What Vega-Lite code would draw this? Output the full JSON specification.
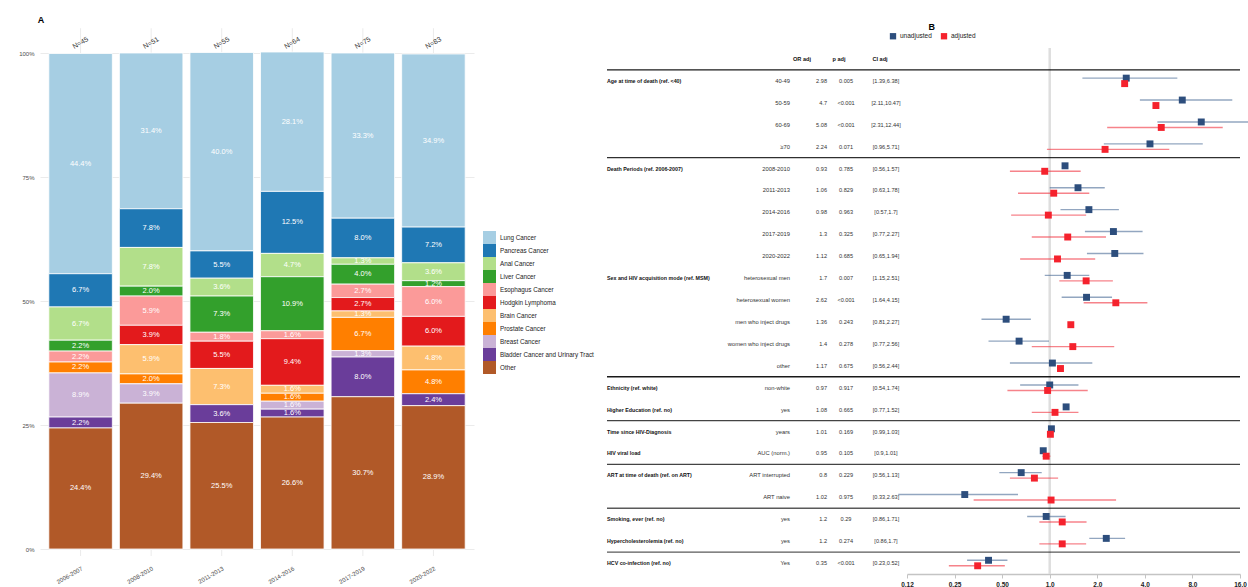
{
  "$schema": "https://vega.github.io/schema/vega-lite/v6.json",
  "background": "white",
  "padding": {"left": 18, "top": 15, "right": 0, "bottom": 0},
  "config": {"font": "Liberation Sans", "view": {"stroke": null}},
  "resolve": {"scale": {"color": "independent"}, "legend": {"color": "independent"}},
  "datasets": {
    "periods": [
      {"period": "2006-2007", "N": "N=45"},
      {"period": "2008-2010", "N": "N=51"},
      {"period": "2011-2013", "N": "N=55"},
      {"period": "2014-2016", "N": "N=64"},
      {"period": "2017-2019", "N": "N=75"},
      {"period": "2020-2022", "N": "N=83"}
    ],
    "cats": [
      {"cat": "Other", "k": 0},
      {"cat": "Bladder Cancer and Urinary Tract", "k": 1},
      {"cat": "Breast Cancer", "k": 2},
      {"cat": "Prostate Cancer", "k": 3},
      {"cat": "Brain Cancer", "k": 4},
      {"cat": "Hodgkin Lymphoma", "k": 5},
      {"cat": "Esophagus Cancer", "k": 6},
      {"cat": "Liver Cancer", "k": 7},
      {"cat": "Anal Cancer", "k": 8},
      {"cat": "Pancreas Cancer", "k": 9},
      {"cat": "Lung Cancer", "k": 10}
    ],
    "cancer": [
      {"period": "2006-2007", "cat": "Lung Cancer", "s": 0.444},
      {"period": "2006-2007", "cat": "Pancreas Cancer", "s": 0.067},
      {"period": "2006-2007", "cat": "Anal Cancer", "s": 0.067},
      {"period": "2006-2007", "cat": "Liver Cancer", "s": 0.022},
      {"period": "2006-2007", "cat": "Esophagus Cancer", "s": 0.022},
      {"period": "2006-2007", "cat": "Prostate Cancer", "s": 0.022},
      {"period": "2006-2007", "cat": "Breast Cancer", "s": 0.089},
      {"period": "2006-2007", "cat": "Bladder Cancer and Urinary Tract", "s": 0.022},
      {"period": "2006-2007", "cat": "Other", "s": 0.244},
      {"period": "2008-2010", "cat": "Lung Cancer", "s": 0.314},
      {"period": "2008-2010", "cat": "Pancreas Cancer", "s": 0.078},
      {"period": "2008-2010", "cat": "Anal Cancer", "s": 0.078},
      {"period": "2008-2010", "cat": "Liver Cancer", "s": 0.020},
      {"period": "2008-2010", "cat": "Esophagus Cancer", "s": 0.059},
      {"period": "2008-2010", "cat": "Hodgkin Lymphoma", "s": 0.039},
      {"period": "2008-2010", "cat": "Brain Cancer", "s": 0.059},
      {"period": "2008-2010", "cat": "Prostate Cancer", "s": 0.020},
      {"period": "2008-2010", "cat": "Breast Cancer", "s": 0.039},
      {"period": "2008-2010", "cat": "Other", "s": 0.294},
      {"period": "2011-2013", "cat": "Lung Cancer", "s": 0.400},
      {"period": "2011-2013", "cat": "Pancreas Cancer", "s": 0.055},
      {"period": "2011-2013", "cat": "Anal Cancer", "s": 0.036},
      {"period": "2011-2013", "cat": "Liver Cancer", "s": 0.073},
      {"period": "2011-2013", "cat": "Esophagus Cancer", "s": 0.018},
      {"period": "2011-2013", "cat": "Hodgkin Lymphoma", "s": 0.055},
      {"period": "2011-2013", "cat": "Brain Cancer", "s": 0.073},
      {"period": "2011-2013", "cat": "Bladder Cancer and Urinary Tract", "s": 0.036},
      {"period": "2011-2013", "cat": "Other", "s": 0.255},
      {"period": "2014-2016", "cat": "Lung Cancer", "s": 0.281},
      {"period": "2014-2016", "cat": "Pancreas Cancer", "s": 0.125},
      {"period": "2014-2016", "cat": "Anal Cancer", "s": 0.047},
      {"period": "2014-2016", "cat": "Liver Cancer", "s": 0.109},
      {"period": "2014-2016", "cat": "Esophagus Cancer", "s": 0.016},
      {"period": "2014-2016", "cat": "Hodgkin Lymphoma", "s": 0.094},
      {"period": "2014-2016", "cat": "Brain Cancer", "s": 0.016},
      {"period": "2014-2016", "cat": "Prostate Cancer", "s": 0.016},
      {"period": "2014-2016", "cat": "Breast Cancer", "s": 0.016},
      {"period": "2014-2016", "cat": "Bladder Cancer and Urinary Tract", "s": 0.016},
      {"period": "2014-2016", "cat": "Other", "s": 0.266},
      {"period": "2017-2019", "cat": "Lung Cancer", "s": 0.333},
      {"period": "2017-2019", "cat": "Pancreas Cancer", "s": 0.080},
      {"period": "2017-2019", "cat": "Anal Cancer", "s": 0.013},
      {"period": "2017-2019", "cat": "Liver Cancer", "s": 0.040},
      {"period": "2017-2019", "cat": "Esophagus Cancer", "s": 0.027},
      {"period": "2017-2019", "cat": "Hodgkin Lymphoma", "s": 0.027},
      {"period": "2017-2019", "cat": "Brain Cancer", "s": 0.013},
      {"period": "2017-2019", "cat": "Prostate Cancer", "s": 0.067},
      {"period": "2017-2019", "cat": "Breast Cancer", "s": 0.013},
      {"period": "2017-2019", "cat": "Bladder Cancer and Urinary Tract", "s": 0.080},
      {"period": "2017-2019", "cat": "Other", "s": 0.307},
      {"period": "2020-2022", "cat": "Lung Cancer", "s": 0.349},
      {"period": "2020-2022", "cat": "Pancreas Cancer", "s": 0.072},
      {"period": "2020-2022", "cat": "Anal Cancer", "s": 0.036},
      {"period": "2020-2022", "cat": "Liver Cancer", "s": 0.012},
      {"period": "2020-2022", "cat": "Esophagus Cancer", "s": 0.060},
      {"period": "2020-2022", "cat": "Hodgkin Lymphoma", "s": 0.060},
      {"period": "2020-2022", "cat": "Brain Cancer", "s": 0.048},
      {"period": "2020-2022", "cat": "Prostate Cancer", "s": 0.048},
      {"period": "2020-2022", "cat": "Bladder Cancer and Urinary Tract", "s": 0.024},
      {"period": "2020-2022", "cat": "Other", "s": 0.289}
    ],
    "seps": [
      {"i": 1, "kind": "a"},
      {"i": 5, "kind": "b"},
      {"i": 15, "kind": "a"},
      {"i": 17, "kind": "c"},
      {"i": 19, "kind": "c"},
      {"i": 21, "kind": "d"},
      {"i": 23, "kind": "d"}
    ],
    "hdr": [{"i": 0, "or": "OR adj", "p": "p adj", "ci": "CI adj"}],
    "tbl": [
      {"i": 1, "grp": "Age at time of death (ref. <40)", "lvl": "40-49", "or": "2.98", "p": "0.005", "ci": "[1.39,6.38]"},
      {"i": 2, "grp": "", "lvl": "50-59", "or": "4.7", "p": "<0.001", "ci": "[2.11,10.47]"},
      {"i": 3, "grp": "", "lvl": "60-69", "or": "5.08", "p": "<0.001", "ci": "[2.31,12.44]"},
      {"i": 4, "grp": "", "lvl": "≥70", "or": "2.24", "p": "0.071", "ci": "[0.96,5.71]"},
      {"i": 5, "grp": "Death Periods (ref. 2006-2007)", "lvl": "2008-2010", "or": "0.93", "p": "0.785", "ci": "[0.56,1.57]"},
      {"i": 6, "grp": "", "lvl": "2011-2013", "or": "1.06", "p": "0.829", "ci": "[0.63,1.78]"},
      {"i": 7, "grp": "", "lvl": "2014-2016", "or": "0.98", "p": "0.963", "ci": "[0.57,1.7]"},
      {"i": 8, "grp": "", "lvl": "2017-2019", "or": "1.3", "p": "0.325", "ci": "[0.77,2.27]"},
      {"i": 9, "grp": "", "lvl": "2020-2022", "or": "1.12", "p": "0.685", "ci": "[0.65,1.94]"},
      {"i": 10, "grp": "Sex and HIV acquisition mode (ref. MSM)", "lvl": "heterosexual men", "or": "1.7", "p": "0.007", "ci": "[1.15,2.51]"},
      {"i": 11, "grp": "", "lvl": "heterosexual women", "or": "2.62", "p": "<0.001", "ci": "[1.64,4.15]"},
      {"i": 12, "grp": "", "lvl": "men who inject drugs", "or": "1.36", "p": "0.243", "ci": "[0.81,2.27]"},
      {"i": 13, "grp": "", "lvl": "women who inject drugs", "or": "1.4", "p": "0.278", "ci": "[0.77,2.56]"},
      {"i": 14, "grp": "", "lvl": "other", "or": "1.17", "p": "0.675", "ci": "[0.56,2.44]"},
      {"i": 15, "grp": "Ethnicity (ref. white)", "lvl": "non-white", "or": "0.97", "p": "0.917", "ci": "[0.54,1.74]"},
      {"i": 16, "grp": "Higher Education (ref. no)", "lvl": "yes", "or": "1.08", "p": "0.665", "ci": "[0.77,1.52]"},
      {"i": 17, "grp": "Time since HIV-Diagnosis", "lvl": "years", "or": "1.01", "p": "0.169", "ci": "[0.99,1.03]"},
      {"i": 18, "grp": "HIV viral load", "lvl": "AUC (norm.)", "or": "0.95", "p": "0.105", "ci": "[0.9,1.01]"},
      {"i": 19, "grp": "ART at time of death (ref. on ART)", "lvl": "ART interrupted", "or": "0.8", "p": "0.229", "ci": "[0.56,1.13]"},
      {"i": 20, "grp": "", "lvl": "ART naive", "or": "1.02", "p": "0.975", "ci": "[0.33,2.63]"},
      {"i": 21, "grp": "Smoking, ever (ref. no)", "lvl": "yes", "or": "1.2", "p": "0.29", "ci": "[0.86,1.71]"},
      {"i": 22, "grp": "Hypercholesterolemia (ref. no)", "lvl": "yes", "or": "1.2", "p": "0.274", "ci": "[0.86,1.7]"},
      {"i": 23, "grp": "HCV co-infection (ref. no)", "lvl": "Yes", "or": "0.35", "p": "<0.001", "ci": "[0.23,0.52]"}
    ],
    "forest": [
      {"i": 1, "model": "unadjusted", "or": 3.05, "lo": 1.61, "hi": 6.42},
      {"i": 1, "model": "adjusted", "or": 2.98},
      {"i": 2, "model": "unadjusted", "or": 6.9, "lo": 3.72, "hi": 14.3},
      {"i": 2, "model": "adjusted", "or": 4.7},
      {"i": 3, "model": "unadjusted", "or": 9.1, "lo": 4.8, "hi": 18},
      {"i": 3, "model": "adjusted", "or": 5.08, "lo": 2.31, "hi": 12.44},
      {"i": 4, "model": "unadjusted", "or": 4.31, "lo": 2.2, "hi": 9.3},
      {"i": 4, "model": "adjusted", "or": 2.24, "lo": 0.96, "hi": 5.71},
      {"i": 5, "model": "unadjusted", "or": 1.25},
      {"i": 5, "model": "adjusted", "or": 0.93, "lo": 0.56, "hi": 1.57},
      {"i": 6, "model": "unadjusted", "or": 1.51, "lo": 1.0, "hi": 2.23},
      {"i": 6, "model": "adjusted", "or": 1.06, "lo": 0.63, "hi": 1.78},
      {"i": 7, "model": "unadjusted", "or": 1.77, "lo": 1.17, "hi": 2.74},
      {"i": 7, "model": "adjusted", "or": 0.98, "lo": 0.57, "hi": 1.7},
      {"i": 8, "model": "unadjusted", "or": 2.53, "lo": 1.67, "hi": 3.87},
      {"i": 8, "model": "adjusted", "or": 1.3, "lo": 0.77, "hi": 2.27},
      {"i": 9, "model": "unadjusted", "or": 2.58, "lo": 1.72, "hi": 3.92},
      {"i": 9, "model": "adjusted", "or": 1.12, "lo": 0.65, "hi": 1.94},
      {"i": 10, "model": "unadjusted", "or": 1.29, "lo": 0.93, "hi": 1.78},
      {"i": 10, "model": "adjusted", "or": 1.7, "lo": 1.15, "hi": 2.51},
      {"i": 11, "model": "unadjusted", "or": 1.71, "lo": 1.19, "hi": 2.48},
      {"i": 11, "model": "adjusted", "or": 2.62, "lo": 1.64, "hi": 4.15},
      {"i": 12, "model": "unadjusted", "or": 0.53, "lo": 0.37, "hi": 0.76},
      {"i": 12, "model": "adjusted", "or": 1.36},
      {"i": 13, "model": "unadjusted", "or": 0.64, "lo": 0.41, "hi": 0.99},
      {"i": 13, "model": "adjusted", "or": 1.4, "lo": 0.77, "hi": 2.56},
      {"i": 14, "model": "unadjusted", "or": 1.04, "lo": 0.56, "hi": 1.86},
      {"i": 14, "model": "adjusted", "or": 1.17},
      {"i": 15, "model": "unadjusted", "or": 1.0, "lo": 0.65, "hi": 1.52},
      {"i": 15, "model": "adjusted", "or": 0.97, "lo": 0.54, "hi": 1.74},
      {"i": 16, "model": "unadjusted", "or": 1.27},
      {"i": 16, "model": "adjusted", "or": 1.08, "lo": 0.77, "hi": 1.52},
      {"i": 17, "model": "unadjusted", "or": 1.025},
      {"i": 17, "model": "adjusted", "or": 1.01, "lo": 0.99, "hi": 1.03},
      {"i": 18, "model": "unadjusted", "or": 0.91},
      {"i": 18, "model": "adjusted", "or": 0.95, "lo": 0.9, "hi": 1.01},
      {"i": 19, "model": "unadjusted", "or": 0.66, "lo": 0.48, "hi": 0.89},
      {"i": 19, "model": "adjusted", "or": 0.8, "lo": 0.56, "hi": 1.13},
      {"i": 20, "model": "unadjusted", "or": 0.29, "lo": 0.11, "hi": 0.63},
      {"i": 20, "model": "adjusted", "or": 1.02, "lo": 0.33, "hi": 2.63},
      {"i": 21, "model": "unadjusted", "or": 0.95, "lo": 0.72, "hi": 1.26},
      {"i": 21, "model": "adjusted", "or": 1.2, "lo": 0.86, "hi": 1.71},
      {"i": 22, "model": "unadjusted", "or": 2.28, "lo": 1.78, "hi": 3.0},
      {"i": 22, "model": "adjusted", "or": 1.2, "lo": 0.86, "hi": 1.7},
      {"i": 23, "model": "unadjusted", "or": 0.41, "lo": 0.3, "hi": 0.54},
      {"i": 23, "model": "adjusted", "or": 0.35, "lo": 0.23, "hi": 0.52}
    ]
  },
  "spacing": 133,
  "bounds": "flush",
  "hconcat": [
    {
      "width": 434,
      "height": 508,
      "title": {"text": "A", "anchor": "start", "fontSize": 9, "fontWeight": "bold", "offset": 3, "dx": 19},
      "layer": [
        {
          "data": {"name": "periods"},
          "mark": {"type": "rule", "color": "#ebebeb", "strokeWidth": 1},
          "encoding": {
            "x": {"field": "period", "type": "nominal", "sort": null,
              "scale": {"paddingInner": 0.1, "paddingOuter": 0.125},
              "axis": {"title": null, "labelAngle": -30, "labelAlign": "right", "labelBaseline": "top", "labelFontSize": 6, "labelColor": "#4d4d4d", "ticks": false, "domain": false, "grid": false, "labelPadding": 9}},
            "y": {"datum": -0.0141, "type": "quantitative",
              "scale": {"domain": [-0.0141, 1.0101], "nice": false, "zero": false},
              "axis": {"title": null, "values": [0, 0.25, 0.5, 0.75, 1], "format": ".0%", "labelFontSize": 6, "labelColor": "#4d4d4d", "ticks": false, "domain": false, "grid": true, "gridColor": "#ebebeb", "labelPadding": 6}},
            "y2": {"datum": 1.05}
          }
        },
        {
          "data": {"name": "cancer"},
          "transform": [{"lookup": "cat", "from": {"data": {"name": "cats"}, "key": "cat", "fields": ["k"]}}],
          "mark": {"type": "bar", "stroke": "white", "strokeWidth": 0.8},
          "encoding": {
            "x": {"field": "period", "type": "nominal", "sort": null},
            "y": {"field": "s", "type": "quantitative", "stack": "zero"},
            "order": {"field": "k", "type": "quantitative"},
            "color": {"field": "cat", "type": "nominal",
              "scale": {"domain": ["Lung Cancer", "Pancreas Cancer", "Anal Cancer", "Liver Cancer", "Esophagus Cancer", "Hodgkin Lymphoma", "Brain Cancer", "Prostate Cancer", "Breast Cancer", "Bladder Cancer and Urinary Tract", "Other"],
                "range": ["#a6cee3", "#1f78b4", "#b2df8a", "#33a02c", "#fb9a99", "#e31a1c", "#fdbf6f", "#ff7f00", "#cab2d6", "#6a3d9a", "#b15928"]},
              "legend": {"title": null, "orient": "none", "direction": "vertical", "legendX": 443, "legendY": 183, "symbolType": "square", "symbolSize": 169, "symbolStrokeWidth": 0, "rowPadding": 0, "labelFontSize": 6.3, "labelColor": "#222", "labelOffset": 4, "labelLimit": 200}}
          }
        },
        {
          "data": {"name": "cancer"},
          "transform": [{"lookup": "cat", "from": {"data": {"name": "cats"}, "key": "cat", "fields": ["k"]}}],
          "mark": {"type": "text", "color": "white", "fontSize": 7.5, "baseline": "middle"},
          "encoding": {
            "x": {"field": "period", "type": "nominal", "sort": null},
            "y": {"field": "s", "type": "quantitative", "stack": "zero", "bandPosition": 0.5},
            "order": {"field": "k", "type": "quantitative"},
            "detail": {"field": "cat", "type": "nominal"},
            "text": {"field": "s", "type": "quantitative", "format": ".1%"}
          }
        },
        {
          "data": {"name": "periods"},
          "mark": {"type": "text", "angle": 330, "fontSize": 7, "color": "#333", "baseline": "middle"},
          "encoding": {
            "x": {"field": "period", "type": "nominal", "sort": null},
            "y": {"datum": 1.02, "type": "quantitative"},
            "text": {"field": "N"}
          }
        }
      ]
    },
    {
      "spacing": 0,
      "bounds": "flush",
      "hconcat": [
        {
          "width": 100, "height": 526,
          "layer": [
            {
              "data": {"name": "seps"},
              "mark": {"type": "rule", "strokeWidth": 1.4, "color": "black"},
              "encoding": {
                "y": {"field": "i", "type": "ordinal", "bandPosition": 0, "scale": {"type": "band", "domain": [0,1,2,3,4,5,6,7,8,9,10,11,12,13,14,15,16,17,18,19,20,21,22,23], "paddingInner": 0, "paddingOuter": 0}, "axis": null},
                "opacity": {"field": "kind", "type": "nominal", "scale": {"domain": ["a", "b", "c", "d"], "range": [0.9, 0.65, 0.42, 0.13]}, "legend": null}
              }
            },
            {
              "data": {"name": "tbl"},
              "mark": {"type": "text", "align": "left", "baseline": "middle", "fontWeight": "bold", "fontSize": 5.3, "color": "#111"},
              "encoding": {
                "x": {"datum": "c", "type": "nominal", "scale": {"type": "point", "paddingOuter": 0, "align": 0}, "axis": null},
                "y": {"field": "i", "type": "ordinal", "axis": null},
                "text": {"field": "grp"}
              }
            }
          ]
        },
        {
          "width": 83, "height": 526,
          "layer": [
            {
              "data": {"name": "seps"},
              "mark": {"type": "rule", "strokeWidth": 1.4, "color": "black"},
              "encoding": {
                "y": {"field": "i", "type": "ordinal", "bandPosition": 0, "scale": {"type": "band", "domain": [0,1,2,3,4,5,6,7,8,9,10,11,12,13,14,15,16,17,18,19,20,21,22,23], "paddingInner": 0, "paddingOuter": 0}, "axis": null},
                "opacity": {"field": "kind", "type": "nominal", "scale": {"domain": ["a", "b", "c", "d"], "range": [0.9, 0.65, 0.42, 0.13]}, "legend": null}
              }
            },
            {
              "data": {"name": "tbl"},
              "mark": {"type": "text", "align": "right", "baseline": "middle", "fontSize": 5.8, "color": "#333"},
              "encoding": {
                "x": {"datum": "c", "type": "nominal", "scale": {"type": "point", "paddingOuter": 0, "align": 1}, "axis": null},
                "y": {"field": "i", "type": "ordinal", "axis": null},
                "text": {"field": "lvl"}
              }
            }
          ]
        },
        {
          "width": 37, "height": 526,
          "layer": [
            {
              "data": {"name": "seps"},
              "mark": {"type": "rule", "strokeWidth": 1.4, "color": "black"},
              "encoding": {
                "y": {"field": "i", "type": "ordinal", "bandPosition": 0, "scale": {"type": "band", "domain": [0,1,2,3,4,5,6,7,8,9,10,11,12,13,14,15,16,17,18,19,20,21,22,23], "paddingInner": 0, "paddingOuter": 0}, "axis": null},
                "opacity": {"field": "kind", "type": "nominal", "scale": {"domain": ["a", "b", "c", "d"], "range": [0.9, 0.65, 0.42, 0.13]}, "legend": null}
              }
            },
            {
              "data": {"name": "tbl"},
              "mark": {"type": "text", "align": "right", "baseline": "middle", "fontSize": 5.6, "color": "#333"},
              "encoding": {
                "x": {"datum": "c", "type": "nominal", "scale": {"type": "point", "paddingOuter": 0, "align": 1}, "axis": null},
                "y": {"field": "i", "type": "ordinal", "axis": null},
                "text": {"field": "or"}
              }
            },
            {
              "data": {"name": "hdr"},
              "mark": {"type": "text", "align": "center", "baseline": "middle", "fontSize": 5.6, "fontWeight": "bold", "color": "#111", "dx": -25},
              "encoding": {
                "x": {"datum": "c", "type": "nominal"},
                "y": {"field": "i", "type": "ordinal", "axis": null},
                "text": {"field": "or"}
              }
            }
          ]
        },
        {
          "width": 38, "height": 526,
          "layer": [
            {
              "data": {"name": "seps"},
              "mark": {"type": "rule", "strokeWidth": 1.4, "color": "black"},
              "encoding": {
                "y": {"field": "i", "type": "ordinal", "bandPosition": 0, "scale": {"type": "band", "domain": [0,1,2,3,4,5,6,7,8,9,10,11,12,13,14,15,16,17,18,19,20,21,22,23], "paddingInner": 0, "paddingOuter": 0}, "axis": null},
                "opacity": {"field": "kind", "type": "nominal", "scale": {"domain": ["a", "b", "c", "d"], "range": [0.9, 0.65, 0.42, 0.13]}, "legend": null}
              }
            },
            {
              "data": {"name": "tbl"},
              "mark": {"type": "text", "align": "center", "baseline": "middle", "fontSize": 5.6, "color": "#333"},
              "encoding": {
                "x": {"datum": "c", "type": "nominal", "scale": {"type": "point", "paddingOuter": 0, "align": 0.5}, "axis": null},
                "y": {"field": "i", "type": "ordinal", "axis": null},
                "text": {"field": "p"}
              }
            },
            {
              "data": {"name": "hdr"},
              "mark": {"type": "text", "align": "center", "baseline": "middle", "fontSize": 5.6, "fontWeight": "bold", "color": "#111", "dx": -7},
              "encoding": {
                "x": {"datum": "c", "type": "nominal"},
                "y": {"field": "i", "type": "ordinal", "axis": null},
                "text": {"field": "p"}
              }
            }
          ]
        },
        {
          "width": 42, "height": 526,
          "layer": [
            {
              "data": {"name": "seps"},
              "mark": {"type": "rule", "strokeWidth": 1.4, "color": "black"},
              "encoding": {
                "y": {"field": "i", "type": "ordinal", "bandPosition": 0, "scale": {"type": "band", "domain": [0,1,2,3,4,5,6,7,8,9,10,11,12,13,14,15,16,17,18,19,20,21,22,23], "paddingInner": 0, "paddingOuter": 0}, "axis": null},
                "opacity": {"field": "kind", "type": "nominal", "scale": {"domain": ["a", "b", "c", "d"], "range": [0.9, 0.65, 0.42, 0.13]}, "legend": null}
              }
            },
            {
              "data": {"name": "tbl"},
              "mark": {"type": "text", "align": "center", "baseline": "middle", "fontSize": 5.6, "color": "#333"},
              "encoding": {
                "x": {"datum": "c", "type": "nominal", "scale": {"type": "point", "paddingOuter": 0, "align": 0.5}, "axis": null},
                "y": {"field": "i", "type": "ordinal", "axis": null},
                "text": {"field": "ci"}
              }
            },
            {
              "data": {"name": "hdr"},
              "mark": {"type": "text", "align": "center", "baseline": "middle", "fontSize": 5.6, "fontWeight": "bold", "color": "#111", "dx": -6},
              "encoding": {
                "x": {"datum": "c", "type": "nominal"},
                "y": {"field": "i", "type": "ordinal", "axis": null},
                "text": {"field": "ci"}
              }
            }
          ]
        },
        {
          "width": 333, "height": 526,
          "title": {"text": "B", "anchor": "start", "fontSize": 9, "fontWeight": "bold", "dx": 31, "offset": 15},
          "layer": [
            {
              "data": {"values": [{}]},
              "mark": {"type": "rule", "color": "#dedede", "strokeWidth": 2.5},
              "encoding": {
                "x": {"datum": 1, "type": "quantitative",
                  "scale": {"type": "log", "base": 2, "domain": [0.125, 16], "nice": false},
                  "axis": {"title": null, "values": [0.125, 0.25, 0.5, 1, 2, 4, 8, 16], "labelExpr": "datum.value == 0.125 ? '0.12' : (datum.value < 1 ? format(datum.value, '.2f') : format(datum.value, '.1f'))", "labelFlush": false, "labelFontSize": 6.5, "labelFontWeight": "bold", "labelColor": "#222", "domainColor": "#c4c4c4", "domainWidth": 1.5, "tickColor": "#c4c4c4", "tickSize": 4, "grid": false, "labelPadding": 3}}
              }
            },
            {
              "data": {"name": "seps"},
              "mark": {"type": "rule", "strokeWidth": 1.4, "color": "black"},
              "encoding": {
                "y": {"field": "i", "type": "ordinal", "bandPosition": 0, "scale": {"type": "band", "domain": [0,1,2,3,4,5,6,7,8,9,10,11,12,13,14,15,16,17,18,19,20,21,22,23], "paddingInner": 0, "paddingOuter": 0}, "axis": null},
                "opacity": {"field": "kind", "type": "nominal", "scale": {"domain": ["a", "b", "c", "d"], "range": [0.9, 0.65, 0.42, 0.13]}, "legend": null}
              }
            },
            {
              "data": {"name": "forest"},
              "mark": {"type": "rule", "strokeWidth": 1.4, "strokeOpacity": 0.6},
              "encoding": {
                "x": {"field": "lo", "type": "quantitative"},
                "x2": {"field": "hi"},
                "y": {"field": "i", "type": "ordinal", "axis": null},
                "yOffset": {"field": "model", "type": "nominal", "scale": {"domain": ["unadjusted", "adjusted"], "paddingInner": 0, "paddingOuter": 1.03}},
                "stroke": {"field": "model", "type": "nominal", "scale": {"domain": ["unadjusted", "adjusted"], "range": ["#4a6a96", "#f0303c"]}, "legend": null}
              }
            },
            {
              "data": {"name": "forest"},
              "mark": {"type": "square", "size": 48, "opacity": 1},
              "encoding": {
                "x": {"field": "or", "type": "quantitative"},
                "y": {"field": "i", "type": "ordinal", "axis": null},
                "yOffset": {"field": "model", "type": "nominal"},
                "color": {"field": "model", "type": "nominal", "scale": {"domain": ["unadjusted", "adjusted"], "range": ["#2d4e7d", "#f5222d"]},
                  "legend": {"title": null, "orient": "none", "legendX": 282, "legendY": -16, "direction": "horizontal", "symbolType": "square", "symbolSize": 40, "labelFontSize": 6.5, "labelColor": "#222", "columnPadding": 8, "labelOffset": 3}}
              }
            }
          ]
        }
      ]
    }
  ]
}
